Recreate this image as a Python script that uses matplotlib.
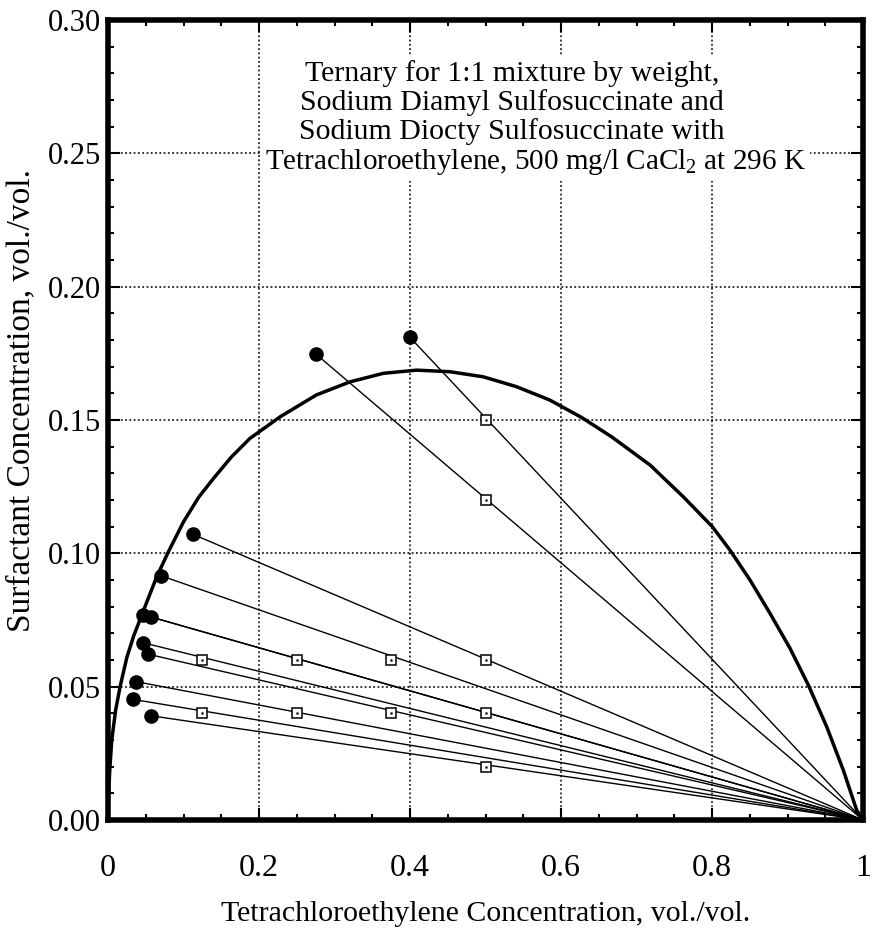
import matplotlib
matplotlib.use("Agg")
import matplotlib.pyplot as plt
from matplotlib.ticker import MultipleLocator, FixedLocator, FuncFormatter

plt.rcParams["font.family"] = ["Liberation Serif", "DejaVu Serif"]
plt.rcParams["mathtext.fontset"] = "custom"
plt.rcParams["mathtext.rm"] = "Liberation Serif"
plt.rcParams["mathtext.it"] = "Liberation Serif:italic"

# Binodal curve (tetrachloroethylene vs surfactant, vol./vol.)
binodal_x = [0.0, 0.0008, 0.0026, 0.005, 0.010, 0.016, 0.025, 0.034, 0.049, 0.0645,
             0.080, 0.100, 0.120, 0.1395, 0.163, 0.188, 0.228, 0.276, 0.3205,
             0.3646, 0.4088, 0.453, 0.497, 0.541, 0.585, 0.627, 0.667, 0.718,
             0.762, 0.8004, 0.8238, 0.8503, 0.8768, 0.9033, 0.9276, 0.9519,
             0.9739, 0.9916, 1.0]
binodal_y = [0.0, 0.010, 0.020, 0.030, 0.041, 0.050, 0.061, 0.069, 0.080, 0.0912,
             0.1006, 0.1118, 0.1210, 0.1280, 0.1360, 0.1431, 0.1512, 0.1594, 0.1643,
             0.1675, 0.1687, 0.1681, 0.1662, 0.1625, 0.1575, 0.151, 0.1437, 0.1331,
             0.1212, 0.1100, 0.1012, 0.0900, 0.0775, 0.0644, 0.0506, 0.0350,
             0.0187, 0.0037, 0.0]

# Measured surfactant-rich phase compositions (filled circles)
phase_x = [0.400, 0.2755, 0.112, 0.0702, 0.047, 0.0565, 0.046, 0.053, 0.037, 0.0335, 0.0565]
phase_y = [0.181, 0.1747, 0.1072, 0.0916, 0.0769, 0.0762, 0.0665, 0.0622, 0.0519, 0.0452, 0.0391]

# Overall mixture compositions (open squares)
feed_x = [0.5, 0.5, 0.5, 0.375, 0.25, 0.5, 0.125, 0.375, 0.25, 0.125, 0.5]
feed_y = [0.15, 0.12, 0.06, 0.06, 0.06, 0.04, 0.06, 0.04, 0.04, 0.04, 0.02]

# Excess organic phase (pure tetrachloroethylene) where every tie line ends
tie_end_x = 1.0
tie_end_y = 0.0

x_ticks = [0, 0.2, 0.4, 0.6, 0.8, 1.0]
x_tick_labels = ["0", "0.2", "0.4", "0.6", "0.8", "1"]
y_ticks = [0.00, 0.05, 0.10, 0.15, 0.20, 0.25, 0.30]

title_lines = ["Ternary for 1:1 mixture by weight,",
               "Sodium Diamyl Sulfosuccinate and",
               "Sodium Diocty Sulfosuccinate with",
               "Tetrachloroethylene, 500 mg/l CaCl$_2$ at 296 K"]

W, H = 874, 940
fig = plt.figure(figsize=(W / 100, H / 100), dpi=100)
ax = fig.add_axes([108 / W, 1 - 820 / H, 755 / W, 800 / H])

# tie lines
for px, py in zip(phase_x, phase_y):
    ax.plot([px, tie_end_x], [py, tie_end_y], color="black", lw=1.0,
            zorder=3, solid_capstyle="butt")

# binodal curve
ax.plot(binodal_x, binodal_y, color="black", lw=2.5, zorder=4,
        solid_joinstyle="round")

# markers
ax.plot(phase_x, phase_y, linestyle="none", marker="o", ms=9.5,
        mfc="black", mec="black", zorder=6)
ax.plot(feed_x, feed_y, linestyle="none", marker="s", ms=7.5,
        mfc="white", mec="black", mew=1.1, zorder=6)
ax.plot(feed_x, feed_y, linestyle="none", marker="s", ms=1.2,
        mfc="black", mec="black", mew=0.3, zorder=7)

ax.set_xlim(0, 1)
ax.set_ylim(0, 0.30)

ax.xaxis.set_major_locator(FixedLocator(x_ticks))
ax.set_xticklabels(x_tick_labels)
ax.xaxis.set_minor_locator(MultipleLocator(0.05))
ax.yaxis.set_major_locator(FixedLocator(y_ticks))
ax.yaxis.set_major_formatter(FuncFormatter(lambda v, p: f"{v:.2f}"))
ax.yaxis.set_minor_locator(MultipleLocator(0.01))

ax.tick_params(which="both", direction="in", top=True, right=True,
               color="black", width=1.5)
ax.tick_params(which="major", length=8.5)
ax.tick_params(which="minor", length=4.5)
ax.tick_params(axis="x", which="major", labelsize=23, pad=24.5)
ax.tick_params(axis="y", which="major", labelsize=22, pad=5)

for sp in ax.spines.values():
    sp.set_linewidth(4)
    sp.set_zorder(10)

ax.grid(True, which="major", color="black", linestyle=(0, (1.2, 1.6)),
        linewidth=1.1, zorder=1)
ax.set_axisbelow(True)

ax.set_xlabel("Tetrachloroethylene Concentration, vol./vol.", fontsize=21.5)
ax.set_ylabel("Surfactant Concentration, vol./vol.", fontsize=24)
ax.xaxis.set_label_coords(0.5, -0.1015)
ax.yaxis.set_label_coords(-0.095, 0.525)

# caption block: white ground first, then the lettering on top of it
line_x = [0.535, 0.535, 0.535, 0.5656]
line_y = [0.2771, 0.2662, 0.2555, 0.2441]
line_size = [21.5, 21.5, 21.5, 21]
for s, lx, ly, fs in zip(title_lines, line_x, line_y, line_size):
    ax.text(lx, ly, s, ha="center", va="baseline", fontsize=fs, zorder=8,
            color="white",
            bbox=dict(facecolor="white", edgecolor="none", pad=3))
for s, lx, ly, fs in zip(title_lines, line_x, line_y, line_size):
    ax.text(lx, ly, s, ha="center", va="baseline", fontsize=fs, zorder=9,
            color="black")

fig.savefig("out.png", dpi=100)
